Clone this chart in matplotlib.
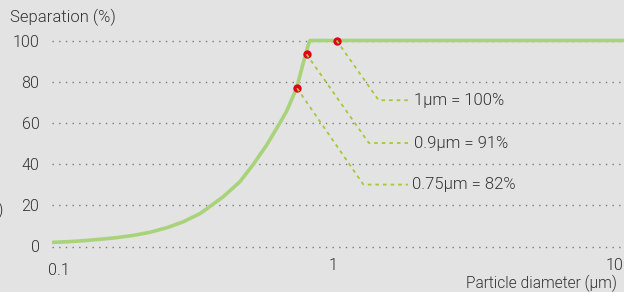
import numpy as np
import matplotlib
matplotlib.use("Agg")
import matplotlib.pyplot as plt
from matplotlib.lines import Line2D
from matplotlib.transforms import IdentityTransform, ScaledTranslation

plt.rcParams['font.family'] = ['Roboto', 'DejaVu Sans']
plt.rcParams['font.weight'] = 300

# curve
diametro = [0.1, 0.1128, 0.1292, 0.1482, 0.1699, 0.1947, 0.2233, 0.2559,
            0.2933, 0.3363, 0.3553, 0.4071, 0.4667, 0.5205, 0.5809, 0.6478,
            0.6845, 0.7031, 0.7427, 0.7838, 0.8166, 0.8284, 10.85]
separacao = [2.0, 2.3, 2.8, 3.5, 4.3, 5.4, 6.9, 9.1,
             12.0, 16.0, 18.3, 24.2, 31.5, 39.9, 49.3, 60.1,
             65.8, 69.5, 77.1, 89.2, 98.0, 100.0, 100.0]

# highlighted points and their labels
ponto_d = [1.03, 0.805, 0.745]
ponto_s = [100.0, 93.3, 76.8]
rotulos = ["1µm = 100%", "0.9µm = 91%", "0.75µm = 82%"]

yticks = [0, 20, 40, 60, 80, 100]
xticks = [0.1, 1, 10]
xlabels = ["0.1", "1", "10"]

bg = '#e3e3e3'
verde = '#a9d37b'
verde_guia = '#a4c93a'
vermelho = '#e2001a'
texto = '#333333'

W, H = 624, 292
fig = plt.figure(figsize=(W / 100, H / 100), dpi=100, facecolor=bg)
ax = fig.add_axes([52 / W, 1 - 256.8 / H, 572 / W, (256.8 - 19.9) / H])
ax.set_facecolor(bg)
ax.set_xscale('log')
ax.set_xlim(0.1, 10.85)
ax.set_ylim(-5, 110)
for s in ax.spines.values():
    s.set_visible(False)

ax.set_yticks(yticks)
ax.set_xticks(xticks)
ax.set_xticklabels(xlabels)
ax.minorticks_off()
ax.tick_params(length=0, labelsize=11.5, colors=texto)
ax.tick_params(axis='y', pad=9)
ax.tick_params(axis='x', pad=1)
ax.yaxis.grid(True, color='#7a7a7a', linestyle=(0, (1, 3.8)), linewidth=1.0)
ax.set_axisbelow(True)

# nudge the 0.1 label like in the original
lab = ax.get_xticklabels()[0]
lab.set_transform(lab.get_transform() + ScaledTranslation(7 / 100, -5 / 100, fig.dpi_scale_trans))

ax.plot(diametro, separacao, color=verde, linewidth=2.6, solid_capstyle='butt',
        solid_joinstyle='round', zorder=3)

# leader lines (pixel offsets from each dot: right, down)
desvios = [(42, 59.7), (62.3, 88.7), (66.3, 96.3)]
texto_x = [414, 414, 411.7]
fig.canvas.draw()
for d, s, lbl, (dx, dy), tx in zip(ponto_d, ponto_s, rotulos, desvios, texto_x):
    mx, my = ax.transData.transform((d, s))
    ex, ey = mx + dx, my - dy
    linha = Line2D([mx, ex, 408], [my, ey, ey], transform=IdentityTransform(),
                   color=verde_guia, linewidth=1.3, linestyle=(0, (2, 2.2)), zorder=4)
    fig.add_artist(linha)
    fig.text(tx / W, ey / H, lbl, fontsize=12, color=texto, va='center', ha='left')

ax.plot(ponto_d, ponto_s, 'o', color=vermelho, markeredgewidth=0, markersize=6,
        zorder=5, clip_on=False)

fig.text(10 / W, 1 - 17 / H, "Separation (%)", fontsize=12, color=texto, va='center', ha='left')
fig.text(466 / W, 1 - 283 / H, "Particle diameter (µm)", fontsize=11.2, color=texto, va='center', ha='left')
fig.text(-2 / W, 1 - 210 / H, ")", fontsize=12, color=texto, va='center', ha='left')

fig.savefig('out.png', dpi=100, facecolor=bg)
